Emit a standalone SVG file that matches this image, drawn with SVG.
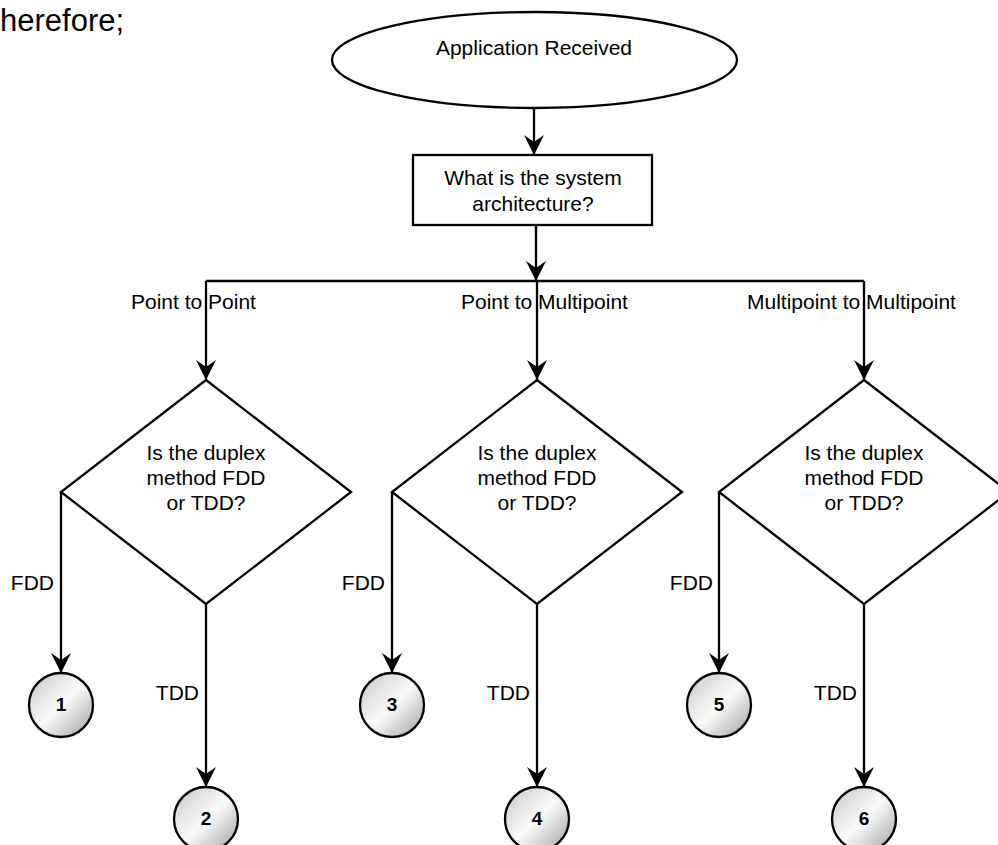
<svg xmlns="http://www.w3.org/2000/svg" width="998" height="845" viewBox="0 0 998 845">
<style>
text{font-family:"Liberation Sans",Arial,sans-serif;fill:#000}
.t{font-size:21px}
.tm{font-size:21px;text-anchor:middle}
.te{font-size:21px;text-anchor:end}
.num{font-size:19px;font-weight:bold;text-anchor:middle}
.shape{fill:#fff;stroke:#000;stroke-width:2.3}
.ball{fill:url(#g);stroke:#000;stroke-width:2.3}
.conn{fill:none;stroke:#000;stroke-width:2.3}
.arr{marker-end:url(#ah)}
</style>
<defs>
<marker id="ah" viewBox="0 0 20 20" refX="20" refY="10" markerWidth="20" markerHeight="20" markerUnits="userSpaceOnUse" orient="auto">
<path d="M0,0 L20,10 L0,20 L7,10 Z" fill="#000"/>
</marker>
<linearGradient id="g" x1="0" y1="0" x2="1" y2="1">
<stop offset="0" stop-color="#c4c4c4"/>
<stop offset="0.5" stop-color="#fbfbfb"/>
<stop offset="1" stop-color="#9e9e9e"/>
</linearGradient>
</defs>
<rect width="998" height="845" fill="#fff"/>
<text x="0" y="31" style="font-size:31px">herefore;</text>
<g id="connectors">
<path class="conn arr" d="M534,108 V155"/>
<path class="conn arr" d="M536,225 V281"/>
<path class="conn" d="M206,281 H864"/>
<path class="conn arr" d="M206,281 V380"/>
<path class="conn arr" d="M537,281 V380"/>
<path class="conn arr" d="M864,281 V380"/>
<path class="conn arr" d="M61,492 V673"/>
<path class="conn arr" d="M392,492 V673"/>
<path class="conn arr" d="M719,492 V673"/>
<path class="conn arr" d="M206,604 V787"/>
<path class="conn arr" d="M537,604 V787"/>
<path class="conn arr" d="M864,604 V787"/>
<text class="t" x="131" y="309">Point to Point</text>
<text class="t" x="461" y="309">Point to Multipoint</text>
<text class="t" x="747" y="309">Multipoint to Multipoint</text>
<text class="te" x="54" y="590">FDD</text>
<text class="te" x="385" y="590">FDD</text>
<text class="te" x="713" y="590">FDD</text>
<text class="te" x="199" y="700">TDD</text>
<text class="te" x="530" y="700">TDD</text>
<text class="te" x="857" y="700">TDD</text>
</g>
<g id="start">
<ellipse class="shape" cx="534.5" cy="60" rx="202.5" ry="48"/>
<text class="tm" x="534" y="55">Application Received</text>
</g>
<g id="architecture">
<rect class="shape" x="413" y="155" width="239" height="70"/>
<text class="tm" x="533" y="185">What is the system</text>
<text class="tm" x="533" y="211">architecture?</text>
</g>
<g id="decision-ptp">
<polygon class="shape" points="206,380 351,492 206,604 61,492"/>
<text class="tm" x="206" y="460">Is the duplex</text>
<text class="tm" x="206" y="485">method FDD</text>
<text class="tm" x="206" y="510">or TDD?</text>
</g>
<g id="decision-ptmp">
<polygon class="shape" points="537,380 682,492 537,604 392,492"/>
<text class="tm" x="537" y="460">Is the duplex</text>
<text class="tm" x="537" y="485">method FDD</text>
<text class="tm" x="537" y="510">or TDD?</text>
</g>
<g id="decision-mptmp">
<polygon class="shape" points="864,380 1009,492 864,604 719,492"/>
<text class="tm" x="864" y="460">Is the duplex</text>
<text class="tm" x="864" y="485">method FDD</text>
<text class="tm" x="864" y="510">or TDD?</text>
</g>
<g id="c1"><circle class="ball" cx="61" cy="705" r="32"/><text class="num" x="61" y="711">1</text></g>
<g id="c2"><circle class="ball" cx="206" cy="819" r="32"/><text class="num" x="206" y="825">2</text></g>
<g id="c3"><circle class="ball" cx="392" cy="705" r="32"/><text class="num" x="392" y="711">3</text></g>
<g id="c4"><circle class="ball" cx="537" cy="819" r="32"/><text class="num" x="537" y="825">4</text></g>
<g id="c5"><circle class="ball" cx="719" cy="705" r="32"/><text class="num" x="719" y="711">5</text></g>
<g id="c6"><circle class="ball" cx="864" cy="819" r="32"/><text class="num" x="864" y="825">6</text></g>
</svg>
